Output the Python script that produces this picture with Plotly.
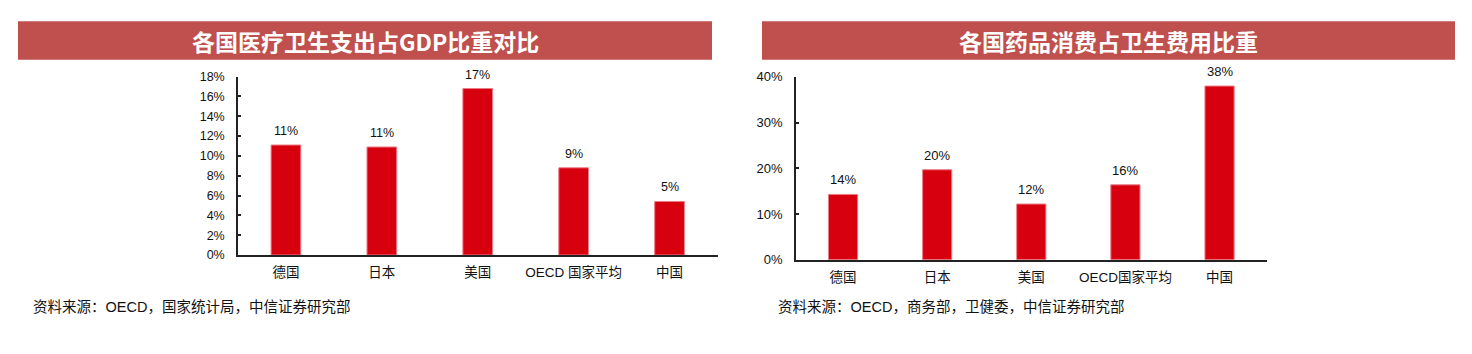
import plotly.graph_objects as go

# ---- data ----
left_title = "各国医疗卫生支出占GDP比重对比"
left_categories = ["德国", "日本", "美国", "OECD 国家平均", "中国"]
left_values = [11.1, 10.9, 16.8, 8.8, 5.4]
left_ticks = [0, 2, 4, 6, 8, 10, 12, 14, 16, 18]
left_source = "资料来源：OECD，国家统计局，中信证券研究部"

right_title = "各国药品消费占卫生费用比重"
right_categories = ["德国", "日本", "美国", "OECD国家平均", "中国"]
right_values = [14.3, 19.7, 12.2, 16.4, 38.0]
right_ticks = [0, 10, 20, 30, 40]
right_source = "资料来源：OECD，商务部，卫健委，中信证券研究部"

W, H = 1472, 354
BAR = "#D7000F"
BANNER = "#C0504D"
FONT = "Liberation Sans, Arial, Noto Sans CJK SC, sans-serif"
CJK = "Noto Sans CJK SC, sans-serif"


def px(x):
    return x / W


def py(y):
    return 1 - y / H


fig = go.Figure()

fig.add_trace(go.Bar(
    x=left_categories, y=left_values, xaxis="x", yaxis="y",
    marker=dict(color=BAR, line=dict(color="#EC7C86", width=1)),
    width=0.31, showlegend=False, hoverinfo="skip",
))
fig.add_trace(go.Bar(
    x=right_categories, y=right_values, xaxis="x2", yaxis="y2",
    marker=dict(color=BAR, line=dict(color="#EC7C86", width=1)),
    width=0.31, showlegend=False, hoverinfo="skip",
))

annotations = []
for c, v in zip(left_categories, left_values):
    annotations.append(dict(x=c, y=v, xref="x", yref="y", text=f"{v:.0f}%",
                            showarrow=False, yanchor="bottom", yshift=5,
                            font=dict(family=FONT, size=12.5, color="#111")))
for c, v in zip(right_categories, right_values):
    annotations.append(dict(x=c, y=v, xref="x2", yref="y2", text=f"{v:.0f}%",
                            showarrow=False, yanchor="bottom", yshift=5,
                            font=dict(family=FONT, size=13, color="#111")))

# banner titles
shapes = [
    dict(type="rect", xref="paper", yref="paper", x0=px(18), x1=px(712),
         y0=py(55), y1=py(15), fillcolor=BANNER, line=dict(width=0), layer="below"),
    dict(type="rect", xref="paper", yref="paper", x0=px(762), x1=px(1455),
         y0=py(55), y1=py(15), fillcolor=BANNER, line=dict(width=0), layer="below"),
]
annotations.append(dict(x=px(365), y=py(35), xref="paper", yref="paper",
                        text=f"<b>{left_title}</b>", showarrow=False,
                        xanchor="center", yanchor="middle",
                        font=dict(family=CJK, size=23, color="white")))
annotations.append(dict(x=px(1108), y=py(35), xref="paper", yref="paper",
                        text=f"<b>{right_title}</b>", showarrow=False,
                        xanchor="center", yanchor="middle",
                        font=dict(family=CJK, size=23, color="white")))
annotations.append(dict(x=px(31), y=py(313), xref="paper", yref="paper",
                        text=left_source, showarrow=False,
                        xanchor="left", yanchor="middle",
                        font=dict(family=FONT, size=14.5, color="#111")))
annotations.append(dict(x=px(776), y=py(313), xref="paper", yref="paper",
                        text=right_source, showarrow=False,
                        xanchor="left", yanchor="middle",
                        font=dict(family=FONT, size=14.5, color="#111")))

axis_line = dict(showline=True, linecolor="#222", linewidth=1.5, showgrid=False,
                 zeroline=False)

fig.update_layout(
    width=W, height=H,
    margin=dict(l=0, r=0, t=0, b=0),
    paper_bgcolor="white", plot_bgcolor="white",
    shapes=shapes, annotations=annotations,
    xaxis=dict(domain=[px(238), px(717.5)], anchor="y", ticks="",
               tickfont=dict(family=FONT, size=13.5, color="#111"),
               ticklabelstandoff=4, fixedrange=True, **axis_line),
    yaxis=dict(domain=[py(259), py(72.7)], anchor="x", range=[0, 18],
               tickvals=left_ticks, ticktext=[f"{t}%" for t in left_ticks],
               ticks="inside", ticklen=3, tickcolor="#222", tickwidth=1.5,
               tickfont=dict(family=FONT, size=12.5, color="#111"),
               ticklabelstandoff=9, **axis_line),
    xaxis2=dict(domain=[px(796), px(1266.6)], anchor="y2", ticks="",
                tickfont=dict(family=FONT, size=13.5, color="#111"),
                ticklabelstandoff=4, **axis_line),
    yaxis2=dict(domain=[py(264), py(73)], anchor="x2", range=[0, 40],
                tickvals=right_ticks, ticktext=[f"{t}%" for t in right_ticks],
                ticks="inside", ticklen=3, tickcolor="#222", tickwidth=1.5,
                tickfont=dict(family=FONT, size=13, color="#111"),
                ticklabelstandoff=9, **axis_line),
    bargap=0.69,
)

fig.write_html("out.html")
